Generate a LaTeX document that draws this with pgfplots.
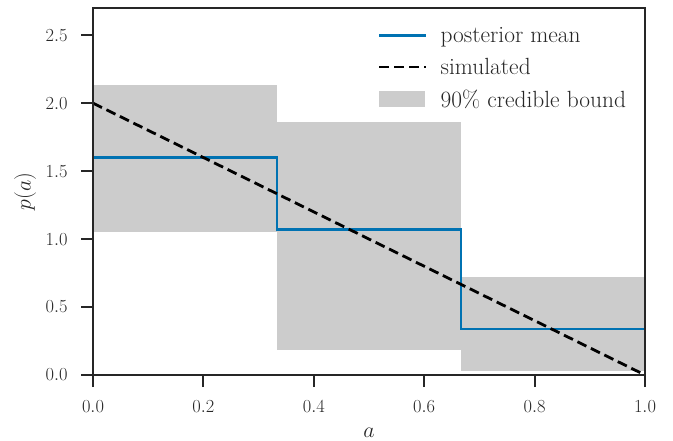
\RequirePackage{fix-cm}
\documentclass[border=0pt]{standalone}
\usepackage{pgfplots}
\pgfplotsset{compat=1.18}
\definecolor{spine}{HTML}{262626}
\definecolor{pblue}{HTML}{0072B2}
\definecolor{band}{HTML}{CCCCCC}
\begin{document}
\begin{tikzpicture}
\begin{axis}[
  scale only axis, width=552bp, height=367bp,
  xmin=0, xmax=1, ymin=0, ymax=2.7,
  axis on top,
  axis line style={spine, line width=2.5bp},
  tick style={spine, line width=1.9bp},
  major tick length=12bp,
  tick align=outside,
  xtick pos=bottom, ytick pos=left,
  xtick={0,0.2,0.4,0.6,0.8,1.0},
  ytick={0,0.5,1.0,1.5,2.0,2.5},
  /pgf/number format/fixed,
  /pgf/number format/fixed zerofill,
  /pgf/number format/precision=1,
  ticklabel style={font=\fontsize{18.5}{20}\selectfont, text=spine},
  xticklabel style={yshift=-10bp},
  yticklabel style={xshift=-10bp},
  xlabel={$a$}, ylabel={$p(a)$},
  xlabel style={at={(axis description cs:0.5,-0.158)}, anchor=center, font=\fontsize{22}{24}\selectfont, text=spine},
  ylabel style={at={(axis description cs:-0.123,0.5)}, anchor=center, rotate=0, font=\fontsize{22}{24}\selectfont, text=spine},
  legend style={draw=none, fill=none, font=\fontsize{23.5}{26}\selectfont, at={(0.975,0.958)}, anchor=north east, row sep=10bp, text=spine},
  legend cell align=left,
  legend image code/.code={\draw[#1] (0bp,0bp) -- (47bp,0bp); \path (58bp,0bp);},
]
\addlegendimage{pblue, line width=2.8bp}
\addlegendentry{posterior mean}
\addlegendimage{black, line width=2.8bp, dash pattern=on 10bp off 5bp}
\addlegendentry{simulated}
\addplot[fill=band, draw=none, legend image code/.code={\fill[band] (0bp,-8bp) rectangle (46bp,8bp); \path (58bp,0bp);}] coordinates {(0,1.052) (0.33333,1.052) (0.33333,2.131) (0,2.131)} -- cycle;
\addlegendentry{90\% credible bound}
\addplot[fill=band, draw=none, forget plot] coordinates {(0.33333,0.184) (0.66667,0.184) (0.66667,1.861) (0.33333,1.861)} -- cycle;
\addplot[fill=band, draw=none, forget plot] coordinates {(0.66667,0.032) (1,0.032) (1,0.720) (0.66667,0.720)} -- cycle;
\addplot[pblue, line width=2.8bp, const plot, forget plot] coordinates {(0,1.598) (0.33333,1.069) (0.66667,0.339) (1,0.339)};
\addplot[black, line width=2.8bp, dash pattern=on 10bp off 5bp, forget plot] coordinates {(0,2) (1,0)};
\end{axis}
\pgfresetboundingbox
\path (current axis.south west) ++(-93bp,-66bp) rectangle ++(673bp,441bp);
\end{tikzpicture}
\end{document}
